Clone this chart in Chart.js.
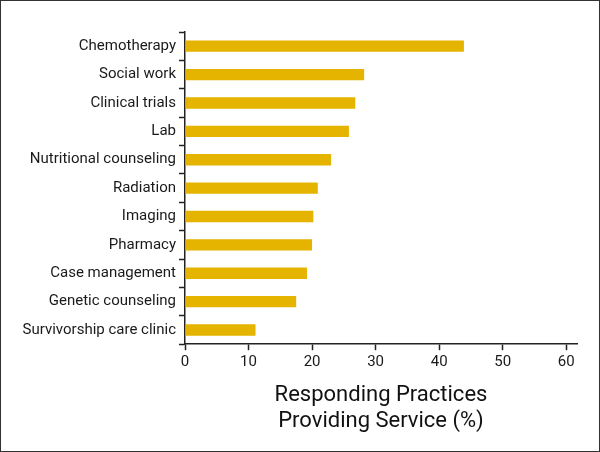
<!DOCTYPE html>
<html>
<head>
<meta charset="utf-8">
<script src="https://cdn.jsdelivr.net/npm/chart.js@4/dist/chart.umd.min.js"></script>
<style>
  html, body { margin: 0; padding: 0; background: #fff; }
  #wrap { width: 600px; height: 452px; box-sizing: border-box; border: 1px solid #333; }
</style>
</head>
<body>
<div id="wrap"><canvas id="myChart" width="598" height="450"></canvas></div>
<script>
const labels = [
    'Chemotherapy',
    'Social work',
    'Clinical trials',
    'Lab',
    'Nutritional counseling',
    'Radiation',
    'Imaging',
    'Pharmacy',
    'Case management',
    'Genetic counseling',
    'Survivorship care clinic'
];
const values = [43.9, 28.2, 26.8, 25.8, 23.0, 20.9, 20.2, 20.0, 19.2, 17.5, 11.1];
const xTicks = [0, 10, 20, 30, 40, 50, 60];
const axisTitle = ['Responding Practices', 'Providing Service (%)'];

const ctx = document.getElementById('myChart').getContext('2d');

const config = {
    type: 'bar',
    data: {
        labels,
        datasets: [{
            data: values,
            backgroundColor: '#E5B400',
            barPercentage: 0.4,
            categoryPercentage: 1
        }]
    },
    options: {
        indexAxis: 'y',
        responsive: false,
        animation: false,
        layout: { padding: { top: 31, right: 22, left: 0, bottom: 16 } },
        plugins: { legend: { display: false }, tooltip: { enabled: false } },
        scales: {
            x: {
                min: 0,
                max: 61.7,
                afterBuildTicks: (scale) => {
                    scale.ticks = xTicks.map(v => ({ value: v }));
                },
                grid: { drawOnChartArea: false, tickLength: 6, color: '#222', tickWidth: 1.5 },
                border: { color: '#222', width: 1.5 },
                ticks: { color: '#1a1a1a', font: { family: 'Roboto', size: 15 }, padding: 3 },
                title: {
                    display: true,
                    text: axisTitle,
                    color: '#111',
                    font: { family: 'Roboto', size: 22 },
                    padding: { top: 8, bottom: 0 }
                }
            },
            y: {
                afterFit: (scale) => { scale.width = 184; },
                grid: { drawOnChartArea: false, offset: true, tickLength: 6, color: '#222', tickWidth: 1.5 },
                border: { color: '#222', width: 1.5 },
                ticks: { color: '#1a1a1a', font: { family: 'Roboto', size: 15 }, padding: 3 }
            }
        }
    }
};

const myChart = new Chart(ctx, config);
</script>
</body>
</html>
